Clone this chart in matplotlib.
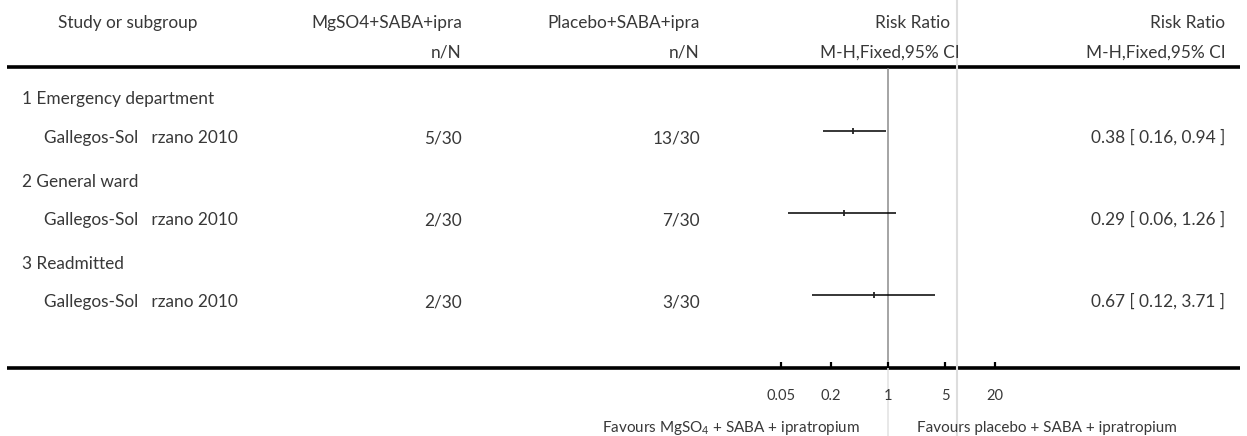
import matplotlib
matplotlib.use("Agg")
import matplotlib.pyplot as plt

# ---- data ----
subgroups = ["1 Emergency department", "2 General ward", "3 Readmitted"]
studies = ["Gallegos-Sol   rzano 2010", "Gallegos-Sol   rzano 2010", "Gallegos-Sol   rzano 2010"]
mg_events = ["5/30", "2/30", "2/30"]
placebo_events = ["13/30", "7/30", "3/30"]
rr = [0.38, 0.29, 0.67]
ci_low = [0.16, 0.06, 0.12]
ci_high = [0.94, 1.26, 3.71]
tick_values = [0.05, 0.2, 1, 5, 20]
tick_labels = ["0.05", "0.2", "1", "5", "20"]

# ---- layout (pixels) ----
W, H = 1247, 436
X_ONE = 888          # pixel position of RR = 1
PX_PER_DECADE = 82.2
sub_base = [104, 187, 269]     # subgroup label baselines
study_line = [131, 213, 295]   # CI line heights
study_base = [143, 225, 307]   # study text baselines
AXIS_Y = 368

plt.rcParams["font.family"] = ["Lato", "DejaVu Sans"]
plt.rcParams["mathtext.fontset"] = "custom"
plt.rcParams["mathtext.rm"] = "Lato"
plt.rcParams["mathtext.it"] = "Lato:italic"
plt.rcParams["mathtext.bf"] = "Lato:bold"
FS = 12.4
TXT = "#383838"

fig = plt.figure(figsize=(W / 100, H / 100), dpi=100)
bg = fig.add_axes([0, 0, 1, 1])
bg.set_xlim(0, W)
bg.set_ylim(H, 0)
bg.axis("off")

fa = fig.add_axes([0, 0, 1, 1], zorder=2)
fa.patch.set_alpha(0)
fa.set_xscale("log")
fa.set_xlim(10 ** ((0 - X_ONE) / PX_PER_DECADE), 10 ** ((W - X_ONE) / PX_PER_DECADE))
fa.set_ylim(H, 0)
fa.axis("off")


def put(ax, x, y, s, ha="left", fs=FS):
    ax.text(x, y, s, fontsize=fs, color=TXT, ha=ha, va="baseline")


# header
put(bg, 58, 28, "Study or subgroup")
put(bg, 462, 28, "MgSO4+SABA+ipra", "right")
put(bg, 462, 58, "n/N", "right")
put(bg, 700, 28, "Placebo+SABA+ipra", "right")
put(bg, 700, 58, "n/N", "right")
put(bg, 950, 28, "Risk Ratio", "right")
put(bg, 960, 58, "M-H,Fixed,95% CI", "right")
put(bg, 1225, 28, "Risk Ratio", "right")
put(bg, 1226, 58, "M-H,Fixed,95% CI", "right")

# horizontal rules
bg.plot([7, 1240], [67, 67], color="black", lw=2.6, solid_capstyle="butt")
bg.plot([7, 1240], [AXIS_Y, AXIS_Y], color="black", lw=2.6, solid_capstyle="butt")

# separator line
bg.plot([957, 957], [0, H], color="#dddddd", lw=1.5)

# line of no effect
fa.plot([1, 1], [69, AXIS_Y], color="#8c8c8c", lw=1.1, zorder=1)
fa.plot([1, 1], [AXIS_Y, H], color="#e2e2e2", lw=1.1, zorder=1)

# rows
for i in range(len(subgroups)):
    put(bg, 22, sub_base[i], subgroups[i])
    put(bg, 44, study_base[i], studies[i])
    put(bg, 462, study_base[i], mg_events[i], "right")
    put(bg, 700, study_base[i], placebo_events[i], "right")
    put(bg, 1225, study_base[i],
        f"{rr[i]:.2f} [ {ci_low[i]:.2f}, {ci_high[i]:.2f} ]", "right")
    fa.plot([ci_low[i], ci_high[i]], [study_line[i], study_line[i]],
            color="black", lw=1.1, solid_capstyle="butt", zorder=3)
    fa.plot([rr[i]], [study_line[i]], marker="|", ms=4, color="#222222",
            markeredgewidth=1.3, zorder=4)

# axis ticks and labels
for v, lab in zip(tick_values, tick_labels):
    fa.plot([v, v], [AXIS_Y - 6, AXIS_Y], color="black", lw=1.6, solid_capstyle="butt")
    put(fa, v, 400, lab, "center", 10.5)

put(bg, 860, 432, "Favours MgSO$_4$ + SABA + ipratropium", "right", 11)
put(bg, 917, 432, "Favours placebo + SABA + ipratropium", "left", 11)

fig.savefig("out.png", dpi=100)
